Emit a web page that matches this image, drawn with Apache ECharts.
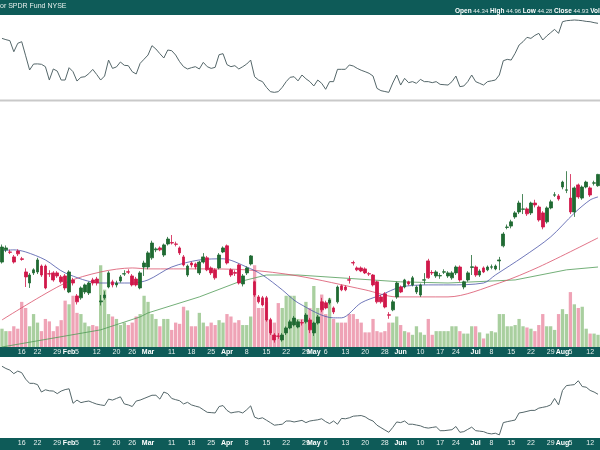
<!DOCTYPE html>
<html><head><meta charset="utf-8">
<script src="https://cdn.jsdelivr.net/npm/echarts@6/dist/echarts.min.js"></script>
<style>html,body{margin:0;padding:0;background:#fff}#c{width:600px;height:450px}</style>
</head><body><div id="c"></div>
<script>
const startDate = '2024-01-08';
const holidays = ['2024-01-15','2024-02-19','2024-03-29','2024-05-27','2024-06-19','2024-07-04'];
const tradingDayCount = 152;
const tickDates = ['2024-01-16','2024-01-22','2024-01-29','2024-02-01','2024-02-05','2024-02-12','2024-02-20','2024-02-26','2024-03-01','2024-03-11','2024-03-18','2024-03-25','2024-04-01','2024-04-08','2024-04-15','2024-04-22','2024-04-29','2024-05-01','2024-05-06','2024-05-13','2024-05-20','2024-05-28','2024-06-03','2024-06-10','2024-06-17','2024-06-24','2024-07-01','2024-07-08','2024-07-15','2024-07-22','2024-07-29','2024-08-01','2024-08-05','2024-08-12'];
const tickTexts = ['16','22','29','Feb','5','12','20','26','Mar','11','18','25','Apr','8','15','22','29','May','6','13','20','28','Jun','10','17','24','Jul','8','15','22','29','Aug','5','12'];

const opens = [40.33,40.97,40.86,40.6,40.91,40.5,39.81,39.23,39.76,39.81,
40.12,40.12,39.72,39.76,39.76,39.55,39.6,38.76,39.39,38.55,
38.45,38.76,38.71,39.39,39.44,38.24,38.45,39.02,39.29,39.13,
39.34,39.7,39.82,39.6,39.44,38.97,40.07,40.07,40.55,40.97,
41.07,40.7,41.28,41.35,41.28,41.07,40.6,39.65,40.28,40.23,
39.76,40.33,40.55,40.02,39.92,40.02,40.86,41.18,39.92,39.78,
40.18,39.18,39.76,40.23,39.29,38.5,38.45,38.45,37.29,36.5,
36.45,36.24,36.61,36.87,37.03,36.92,37.15,37.19,37.29,36.61,
37.13,38.24,38.19,38.19,37.92,38.24,39.08,39.02,39.4,40.3,
40.02,40.02,39.97,39.72,39.65,39.29,38.5,38.66,37.56,37.82,
38.5,39.02,39.02,39.29,39.13,38.76,38.6,39.38,40.39,39.78,
39.6,39.6,39.8,39.6,39.5,39.76,40.07,39.02,39.39,40.05,
40.07,39.65,40.02,39.92,40.06,39.97,40.39,41.18,42.15,42.22,
42.7,42.96,43.1,43.12,42.91,43.43,43.22,42.91,42.44,43.17,
43.84,43.8,44.27,44.1,43.69,42.96,44.38,43.69,44.27,44.22,
44.47,44.34];
const closes = [41.12,41.07,40.84,40.33,40.76,40.47,39.55,39.65,39.92,40.44,
39.65,38.97,39.7,39.39,39.6,39.29,38.97,39.81,39.23,38.24,
38.97,39.13,39.23,39.23,39.23,38.29,38.6,39.76,39.13,39.23,
39.55,39.72,39.8,39.13,39.13,39.76,40.28,40.81,41.33,41.02,
40.97,41.23,41.54,41.33,41.26,40.81,40.18,40.12,40.18,40.07,
40.33,40.6,39.92,39.76,39.5,40.7,41.07,40.28,39.65,39.74,
39.23,39.6,40.02,40.65,38.6,38.24,38.08,37.29,36.61,36.24,
36.43,36.5,36.87,37.19,37.39,37.19,37.13,37.55,36.77,37.13,
37.45,37.82,37.92,38.34,37.71,39.02,38.87,38.87,39.38,40.28,
39.92,39.86,39.76,39.7,39.13,38.24,38.24,37.97,37.54,38.24,
39.23,38.76,39.39,39.18,39.5,39.02,39.13,39.4,39.5,39.76,
39.81,39.62,39.82,39.76,39.76,40.07,39.39,39.29,39.76,40.08,
39.65,39.86,39.81,40.07,40.08,40.12,40.44,41.8,42.17,42.44,
42.91,43.43,43.12,42.86,43.43,43.33,42.54,42.17,43.17,43.49,
43.86,43.64,44.53,44.12,42.96,44.22,43.75,44.27,44.53,43.85,
44.49,44.93];
const lows = [40.25,40.85,40.75,40.25,40.65,40.4,39.02,38.97,39.65,39.7,
39.55,38.9,39.55,39.3,39.5,39.2,38.85,38.7,39.1,38.1,
38.35,38.65,38.6,39.1,39.1,38.05,38.35,38.95,39.0,39.0,
39.25,39.6,39.7,39.05,39.05,38.9,39.6,39.95,40.45,40.85,
40.9,40.6,41.2,41.25,41.15,40.7,40.1,39.55,40.05,39.95,
39.65,40.25,39.85,39.65,39.4,39.95,40.8,40.2,39.55,39.6,
39.15,39.05,39.65,40.15,38.5,38.15,38.0,37.2,36.5,36.1,
36.3,36.15,36.5,36.8,36.95,36.85,37.0,37.1,36.6,36.45,
37.05,37.7,37.85,38.1,37.6,38.15,38.8,38.8,39.2,40.15,
39.85,39.8,39.7,39.6,39.05,38.15,38.15,37.9,37.35,37.75,
38.4,38.7,38.95,39.1,39.05,38.65,38.5,39.15,39.45,39.65,
39.5,39.45,39.7,39.5,39.4,39.65,39.3,38.9,39.3,39.65,
39.55,39.55,39.75,39.85,39.95,39.9,39.9,41.1,42.05,42.1,
42.6,42.85,42.85,42.75,42.8,43.2,42.45,42.05,42.35,43.1,
43.75,43.55,44.15,43.95,42.85,42.7,43.65,43.6,44.2,43.75,
44.35,44.28];
const highs = [41.25,41.2,40.98,40.7,41.0,40.6,40.0,39.75,40.0,40.55,
40.2,40.2,39.9,39.85,39.85,39.65,39.7,39.9,39.5,38.65,
39.05,39.2,39.3,39.5,39.55,38.6,38.8,39.85,39.4,39.35,
39.65,39.9,39.95,39.7,39.55,39.85,40.4,40.9,41.45,41.1,
41.15,41.3,41.65,41.75,41.4,41.15,40.7,40.2,40.35,40.3,
40.4,40.8,40.65,40.1,40.0,40.8,41.15,41.25,40.0,39.9,
40.25,39.7,40.1,40.7,39.35,38.6,38.55,38.55,37.4,36.6,
36.6,36.6,36.95,37.3,37.5,37.3,37.3,37.65,37.4,37.2,
37.55,38.45,38.3,38.45,38.0,39.1,39.15,39.1,39.6,40.4,
40.1,40.1,40.05,39.8,39.7,39.35,38.6,38.75,37.7,38.35,
39.3,39.1,39.45,39.35,39.6,39.1,39.2,39.75,40.5,39.9,
39.9,39.75,39.95,39.85,39.85,40.15,40.15,39.35,39.85,40.7,
40.15,39.95,40.1,40.15,40.2,40.2,40.6,41.9,42.3,42.55,
43.0,43.55,43.9,43.2,43.5,43.6,43.3,43.0,43.25,43.6,
44.0,43.9,44.6,45.1,44.95,44.3,44.45,44.35,44.6,44.3,
44.6,44.96];
const volumes = [3.0,2.6,2.6,3.4,3.0,7.4,6.4,3.4,5.4,4.0,2.6,4.6,4.2,2.6,3.4,4.4,7.6,7.0,8.4,5.6,5.4,4.0,3.4,3.6,3.4,13.4,9.4,5.4,5.0,4.6,3.6,4.0,3.6,4.0,5.0,5.4,8.4,7.4,
5.4,4.6,3.4,4.6,4.6,2.8,4.0,3.8,6.6,6.0,3.4,3.4,5.6,4.0,3.4,4.0,3.6,4.4,4.0,5.4,5.0,4.0,4.4,3.6,3.6,5.0,13.4,6.4,6.4,7.4,4.6,4.0,7.2,6.4,8.4,8.4,8.4,4.6,
4.6,7.4,6.4,10.0,6.4,8.6,5.4,8.0,4.6,4.0,4.0,4.0,5.4,5.4,4.6,4.0,2.4,2.4,4.6,2.6,2.4,2.6,4.0,4.0,5.0,3.6,2.6,2.4,2.0,3.4,2.4,2.0,4.6,2.0,2.6,2.6,2.6,2.6,
3.4,3.4,2.6,2.2,2.2,3.4,3.4,2.4,1.4,2.2,2.6,2.4,5.4,5.4,3.4,3.4,3.6,4.6,3.4,3.2,3.0,2.6,3.6,5.4,3.4,3.4,2.8,5.4,6.2,5.4,9.0,7.0,6.4,6.6,3.0,2.2,2.2,2.0];
const ma20 = [[0,40.92],[3,40.97],[6,40.86],[11,40.44],[16,39.76],[25,39.23],[33,39.23],[37,39.39],[43,40.07],[50,40.44],[56,40.5],[62,40.07],[66,39.65],[71,38.87],[75,38.19],[84,37.4],[86,37.4],[91,38.19],[96,38.6],[101,39.02],[108,39.13],[113,39.13],[122,39.23],[125,39.65],[132,40.6],[139,41.65],[145,42.9],[149,43.59],[151,43.75]];
const ma50 = [[0,37.29],[16,39.23],[25,39.81],[33,40.02],[37,39.97],[50,39.97],[62,39.92],[75,39.6],[92,38.87],[100,38.5],[113,38.5],[126,39.23],[136,40.07],[151,41.6]];
const ma200 = [[0,35.87],[25,36.77],[35,37.45],[37,37.66],[50,38.5],[60,39.29],[67,39.65],[75,39.65],[101,39.29],[113,39.23],[130,39.39],[143,39.92],[151,40.07]];
const upperIndicator = [72.5,71,69.8,56.8,66.7,68.6,52,35.3,42.3,42.5,42.0,39.2,23.5,36.5,34,23.5,23.5,38,33.3,22.3,
26.7,27.4,31,36,30,23.5,28.2,47,37.2,38.9,44.7,40.8,40.4,33.3,30.6,43.1,48,52.9,63.9,60,
54.5,49.4,58.8,58,52.9,45.1,39.2,36.5,38,39.2,36.5,44.3,39.2,37.2,38.4,53.3,54.5,41.6,39.2,40.4,
36.5,39.2,42.3,47,27.4,23.5,21.6,14.9,9.8,9,9.8,14.9,21.6,26.7,27.4,22.5,29.4,25,21.6,16.5,
23.5,19.6,12.6,21.6,21.6,36.1,36.1,36.1,41.2,40,37.2,35,33.3,31.4,28.2,13.7,11,10,9,20,
29.4,17.6,25.5,20.4,21.6,19.6,24.3,21.6,21.6,20.4,21.6,18.4,18,17.6,21.6,28.2,15.7,16.5,21.6,29.4,
21.6,19.6,17.6,21.6,22.5,23.5,29.4,46.2,47.8,47,55,64.7,68.6,73.7,72.5,76,78.4,70.6,75.3,79.2,
83.1,78.4,92.1,93.3,93.7,94.1,93.8,93.3,92.5,92.1,91,90.2];
const lowerIndicator = [86,83.2,81.2,76.8,80,78,70,64.8,64.8,63.2,
54,56.8,55.5,55.2,52,55.2,57,58,40,44,
40.8,42,42.8,40.8,39,38,37.2,45.2,44,46,
48,39.2,38,36,42.8,44,46,48,50,50,
45.2,54,52,46,44.5,43.2,39.2,41.2,38,36.5,
35.2,32,28.8,28.4,28,36,37.2,31.2,28,29,
29.6,28,32,36.8,22.8,20.8,22,19,16,12.8,
13.4,14,18,18,16.8,17.8,18.8,16,18,18.8,
19.5,20.8,17.2,14.8,18,14,21.2,20.8,22,24,
24.4,24.8,23.2,20,18,12.8,9.8,6.8,4,10,
16.8,16,18,14,14,13,12,10,9.2,10,
10.8,6,6,6.6,7.2,11.2,4,4.8,7.6,10.4,
6,5.4,4.8,2.8,2,2.8,0.8,16,17.2,18.2,
19.2,28,28.8,30,31.2,31.2,34,35,36,38,
46,38,56,62,62.6,63.2,68,60.8,60,56,
54,51.2];

const categories = [];
{
  const d = new Date(startDate + 'T12:00:00Z');
  while (categories.length < tradingDayCount) {
    const s = d.toISOString().slice(0,10);
    const wd = d.getUTCDay();
    if (wd !== 0 && wd !== 6 && holidays.indexOf(s) < 0) categories.push(s);
    d.setUTCDate(d.getUTCDate() + 1);
  }
}
const tickMap = {};
tickDates.forEach((t,k) => tickMap[t] = tickTexts[k]);
const months = ['Feb','Mar','Apr','May','Jun','Jul','Aug'];

const UP = '#1f6a32', DOWN = '#d0184a', TEAL = '#0e5b58', LINE = '#55676a';
const candleData = categories.map((c,i) => [opens[i], closes[i], lows[i], highs[i]]);
const volData = categories.map((c,i) => ({value: volumes[i], itemStyle: {color: closes[i] >= opens[i] ? '#a9cf9f' : '#efa3b6'}}));

function bandAxis(gi) {
  return {
    type: 'category', gridIndex: gi, data: categories, position: 'top', boundaryGap: true,
    axisLine: {show: false}, axisTick: {show: false}, splitLine: {show: false},
    axisLabel: {
      inside: true, margin: 2, fontSize: 7, color: '#e8f0ee', fontFamily: 'Liberation Sans',
      interval: (idx, val) => tickMap[val] !== undefined,
      formatter: val => {
        const t = tickMap[val] || '';
        return months.indexOf(t) >= 0 ? '{b|' + t + '}' : t;
      },
      rich: {b: {fontWeight: 'bold', fontSize: 7, color: '#fff', fontFamily: 'Liberation Sans'}}
    }
  };
}
function plainAxis(gi) {
  return {type: 'category', gridIndex: gi, data: categories, boundaryGap: true, show: false};
}

const option = {
  animation: false,
  backgroundColor: '#fff',
  grid: [
    {left: 0, right: 0, top: 15, height: 85},
    {left: 0, right: 0, top: 103, height: 244},
    {left: 0, right: 0, top: 347, height: 10, show: true, backgroundColor: TEAL, borderWidth: 0},
    {left: 0, right: 0, top: 357, height: 81},
    {left: 0, right: 0, top: 438, height: 12, show: true, backgroundColor: TEAL, borderWidth: 0}
  ],
  xAxis: [plainAxis(0), plainAxis(1), bandAxis(2), plainAxis(3), bandAxis(4)],
  yAxis: [
    {gridIndex: 0, min: 0, max: 100, show: false},
    {gridIndex: 1, min: 35.87, max: 48.68, show: false, scale: true},
    {gridIndex: 1, min: 0, max: 40, show: false},
    {gridIndex: 2, show: false},
    {gridIndex: 3, min: -3.1, max: 97.5, show: false},
    {gridIndex: 4, show: false}
  ],
  graphic: [
    {type: 'rect', shape: {x: 0, y: 0, width: 600, height: 15}, style: {fill: TEAL}},
    {type: 'rect', shape: {x: 0, y: 99.5, width: 600, height: 2}, style: {fill: '#c9c9c9'}},
    {type: 'text', left: 0, top: 3, style: {text: 'or SPDR Fund NYSE', fill: '#e8f0ee', fontSize: 7, fontFamily: 'Liberation Sans'}},
    {type: 'text', left: 455, top: 8, style: {
      text: '{b|Open} 44.34 {b|High} 44.96 {b|Low} 44.28 {b|Close} 44.93 {b|Volume}',
      fill: '#e8f0ee', fontSize: 6, fontFamily: 'Liberation Sans',
      rich: {b: {fontWeight: 'bold', fill: '#fff', fontSize: 6.5, fontFamily: 'Liberation Sans'}}
    }}
  ],
  series: [
    {type: 'line', xAxisIndex: 0, yAxisIndex: 0, data: upperIndicator, symbol: 'none', lineStyle: {color: LINE, width: 1}},
    {type: 'bar', xAxisIndex: 1, yAxisIndex: 2, data: volData, barWidth: 3.3, z: 1},
    {type: 'line', xAxisIndex: 1, yAxisIndex: 1, data: ma200, symbol: 'none', lineStyle: {color: '#4f9a55', width: 0.8}, z: 2},
    {type: 'line', xAxisIndex: 1, yAxisIndex: 1, data: ma50, symbol: 'none', smooth: 0.3, lineStyle: {color: '#d9506a', width: 0.8}, z: 2},
    {type: 'line', xAxisIndex: 1, yAxisIndex: 1, data: ma20, symbol: 'none', smooth: 0.3, lineStyle: {color: '#4b55a8', width: 0.8}, z: 2},
    {type: 'candlestick', xAxisIndex: 1, yAxisIndex: 1, data: candleData, barWidth: 3.2, z: 3,
      itemStyle: {color: UP, color0: DOWN, borderColor: UP, borderColor0: DOWN, borderWidth: 0.8}},
    {type: 'line', xAxisIndex: 3, yAxisIndex: 4, data: lowerIndicator, symbol: 'none', lineStyle: {color: LINE, width: 1}}
  ]
};
echarts.init(document.getElementById('c')).setOption(option);
</script></body></html>
